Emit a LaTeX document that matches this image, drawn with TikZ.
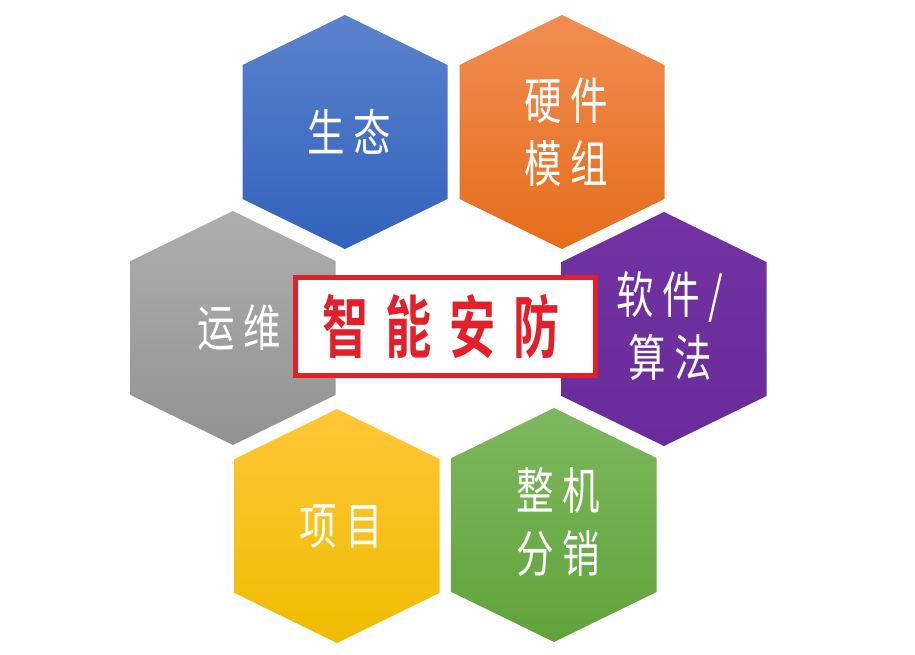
\documentclass[tikz,border=0pt]{standalone}
\usepackage{fontspec}
\newfontfamily\cjk[FakeStretch=0.75,LetterSpace=17]{Noto Sans CJK SC}
\newfontfamily\cjktitle[FakeStretch=0.68,LetterSpace=26,BoldFont={Noto Sans CJK SC Bold}]{Noto Sans CJK SC}

\definecolor{blueTop}{RGB}{91,130,204}
\definecolor{blueBot}{RGB}{50,98,188}
\definecolor{orangeTop}{RGB}{241,141,82}
\definecolor{orangeBot}{RGB}{229,109,26}
\definecolor{grayTop}{RGB}{174,174,174}
\definecolor{grayBot}{RGB}{146,146,146}
\definecolor{purpleTop}{RGB}{114,50,162}
\definecolor{purpleBot}{RGB}{106,44,154}
\definecolor{yellowTop}{RGB}{255,199,56}
\definecolor{yellowBot}{RGB}{239,188,0}
\definecolor{greenTop}{RGB}{125,184,94}
\definecolor{greenBot}{RGB}{96,163,58}
\definecolor{coreRed}{RGB}{227,32,42}

\newcommand{\hexcell}[3]{\shade [top color=#2,bottom color=#3] (#1) +(0,-117) -- +(102.5,-67) -- +(102.5,67) -- +(0,117) -- +(-102.5,67) -- +(-102.5,-67) -- cycle;}

\begin{document}
\begin{tikzpicture}[x=1pt,y=-1pt]
		\tikzstyle{every node}+=[inner sep=0pt]
		\tikzstyle{cell}=[text=white,font=\cjk\fontsize{50}{63}\selectfont,align=center]
		\useasboundingbox (0,0) rectangle (915,654);
		\hexcell{345,132}{blueTop}{blueBot}
		\hexcell{562,132}{orangeTop}{orangeBot}
		\hexcell{233,328}{grayTop}{grayBot}
		\hexcell{664,329}{purpleTop}{purpleBot}
		\hexcell{337,526}{yellowTop}{yellowBot}
		\hexcell{554,525}{greenTop}{greenBot}
		\node [cell] (eco) at (349,132) {生态};
		\node [cell] (hardware) at (566,132) {硬件\\模组};
		\node [cell] (ops) at (239,328) {运维};
		\node [cell] (software) at (670,326) {软件/\\算法};
		\node [cell] (project) at (341,527) {项目};
		\node [cell] (device) at (558,522) {整机\\分销};
		\node [draw=coreRed,line width=5pt,fill=white,minimum width=300pt,minimum height=98pt,text=coreRed,font=\cjktitle\bfseries\fontsize{68}{68}\selectfont] (core) at (445.5,326.5) {\hspace*{-9pt}智能安防};
	\end{tikzpicture}
\end{document}
